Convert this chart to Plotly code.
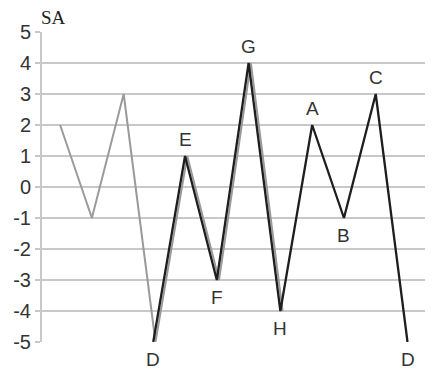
import plotly.graph_objects as go

# Data
gray_x = [0, 1, 2, 3, 4, 5, 6, 7]
gray_y = [2, -1, 3, -5, 1, -3, 4, -4]
black_x = [3, 4, 5, 6, 7, 8, 9, 10, 11]
black_y = [-5, 1, -3, 4, -4, 2, -1, 3, -5]
point_labels = ["D", "E", "F", "G", "H", "A", "B", "C", "D"]
label_pos = ["below", "above", "below", "above", "below", "above", "below", "above", "below"]
y_ticks = [5, 4, 3, 2, 1, 0, -1, -2, -3, -4, -5]

fig = go.Figure()
fig.add_trace(go.Scatter(x=[x + 0.07 for x in gray_x], y=gray_y, mode="lines",
                         line=dict(color="#9a9a9a", width=2), hoverinfo="skip"))
fig.add_trace(go.Scatter(x=black_x, y=black_y, mode="lines",
                         line=dict(color="#1e1e1e", width=2.3), hoverinfo="skip"))

for x, y, t, p in zip(black_x, black_y, point_labels, label_pos):
    fig.add_annotation(x=x, y=y, text=t, showarrow=False,
                       yshift=(17 if p == "above" else -17),
                       font=dict(family="Arial, Liberation Sans", size=19, color="#333"))

fig.add_annotation(xref="paper", yref="paper", x=0.0, y=1.0, xanchor="left", yanchor="bottom",
                   text="SA", showarrow=False, yshift=2, xshift=-3,
                   font=dict(family="Liberation Serif, Times New Roman", size=19, color="#222"))
fig.add_annotation(xref="paper", yref="y", x=1.0, y=-5, xanchor="left", yanchor="middle",
                   text="t", showarrow=False, xshift=3,
                   font=dict(family="Arial, Liberation Sans", size=18, color="#333"))

fig.update_layout(
    width=427, height=364,
    margin=dict(l=34, r=10, t=24, b=30, autoexpand=False),
    paper_bgcolor="white", plot_bgcolor="white",
    showlegend=False,
)
fig.update_xaxes(range=[-0.5, 11.55], showgrid=False, zeroline=False, automargin=False,
                 showticklabels=False, showline=False)
fig.update_yaxes(range=[-5, 5], tickvals=y_ticks, ticktext=[str(v) for v in y_ticks],
                 automargin=False,
                 showgrid=True, gridcolor="#c8c8c8", gridwidth=1.5, zeroline=False,
                 showline=True, linecolor="#c8c8c8", linewidth=2,
                 ticks="outside", ticklen=5, tickcolor="#c8c8c8", tickwidth=1.5,
                 tickfont=dict(family="Arial, Liberation Sans", size=20, color="#333"))

fig.write_html("out.html")
